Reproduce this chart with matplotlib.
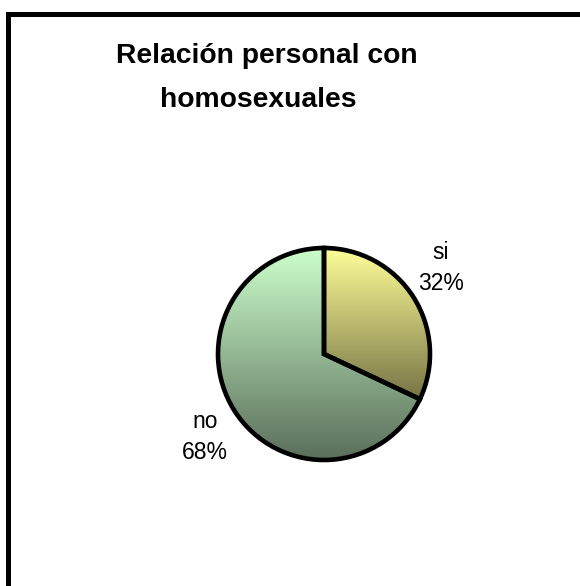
import numpy as np
import matplotlib
matplotlib.use("Agg")
import matplotlib.pyplot as plt
from matplotlib.lines import Line2D
from matplotlib.colors import LinearSegmentedColormap

plt.rcParams['font.family'] = ['Liberation Sans', 'DejaVu Sans']

title_lines = ["Relación personal con", "homosexuales"]
categories = ["si", "no"]
values = [32, 68]
top_colors = ["#FFFF99", "#CCFFCC"]
bottom_colors = ["#777445", "#5A6E5A"]

W, H = 580, 586
fig = plt.figure(figsize=(W / 100, H / 100), dpi=100)
fig.patch.set_facecolor("white")

# Outer chart border (only top and left edges visible in frame)
lw_px = 5
fig.add_artist(Line2D([7.5 / W, 7.5 / W], [0, 1 - 13.5 / H], color="black",
                      lw=lw_px * 0.72, solid_capstyle="projecting",
                      solid_joinstyle="miter", transform=fig.transFigure))
fig.add_artist(Line2D([7.5 / W, 1.01], [1 - 13.5 / H, 1 - 13.5 / H], color="black",
                      lw=lw_px * 0.72, solid_capstyle="projecting",
                      transform=fig.transFigure))

# Title
fig.text(267 / W, 1 - 63 / H, title_lines[0], ha="center", va="baseline",
         fontsize=20.3, fontweight="bold")
fig.text(258 / W, 1 - 107 / H, title_lines[1], ha="center", va="baseline",
         fontsize=20.3, fontweight="bold")

# Pie axes: centre (324, 354) px, radius 106 px
cx, cy, r = 324, 354, 106
half = 2 * r
ax = fig.add_axes([(cx - half) / W, (H - cy - half) / H, 2 * half / W, 2 * half / H])
ax.set_xlim(-2, 2)
ax.set_ylim(-2, 2)
ax.set_aspect("equal")
ax.axis("off")

wedges, _ = ax.pie(values, startangle=90, counterclock=False, radius=1,
                   colors=["none", "none"],
                   wedgeprops=dict(edgecolor="black", linewidth=3.3, zorder=3))

for w, tc, bc in zip(wedges, top_colors, bottom_colors):
    w.set_facecolor("none")
    bb = w.get_path().get_extents()
    cmap = LinearSegmentedColormap.from_list("g", [bc, tc])
    grad = np.linspace(0, 1, 256).reshape(-1, 1)
    im = ax.imshow(grad, cmap=cmap, origin="lower", aspect="auto",
                   extent=[bb.x0, bb.x1, bb.y0, bb.y1], zorder=2,
                   interpolation="bilinear")
    im.set_clip_path(w)

ax.set_xlim(-2, 2)
ax.set_ylim(-2, 2)

# Data labels
def px2data(px, py):
    return ((px - cx) / r, (cy - py) / r)

labels = [f"{c}\n{v}%" for c, v in zip(categories, values)]
pos = [px2data(441, 268), px2data(205, 437)]
for lab, (x, y) in zip(labels, pos):
    ax.text(x, y, lab, ha="center", va="center", fontsize=16.5,
            linespacing=1.42, color="black")

fig.savefig("out.png", dpi=100, facecolor="white")
